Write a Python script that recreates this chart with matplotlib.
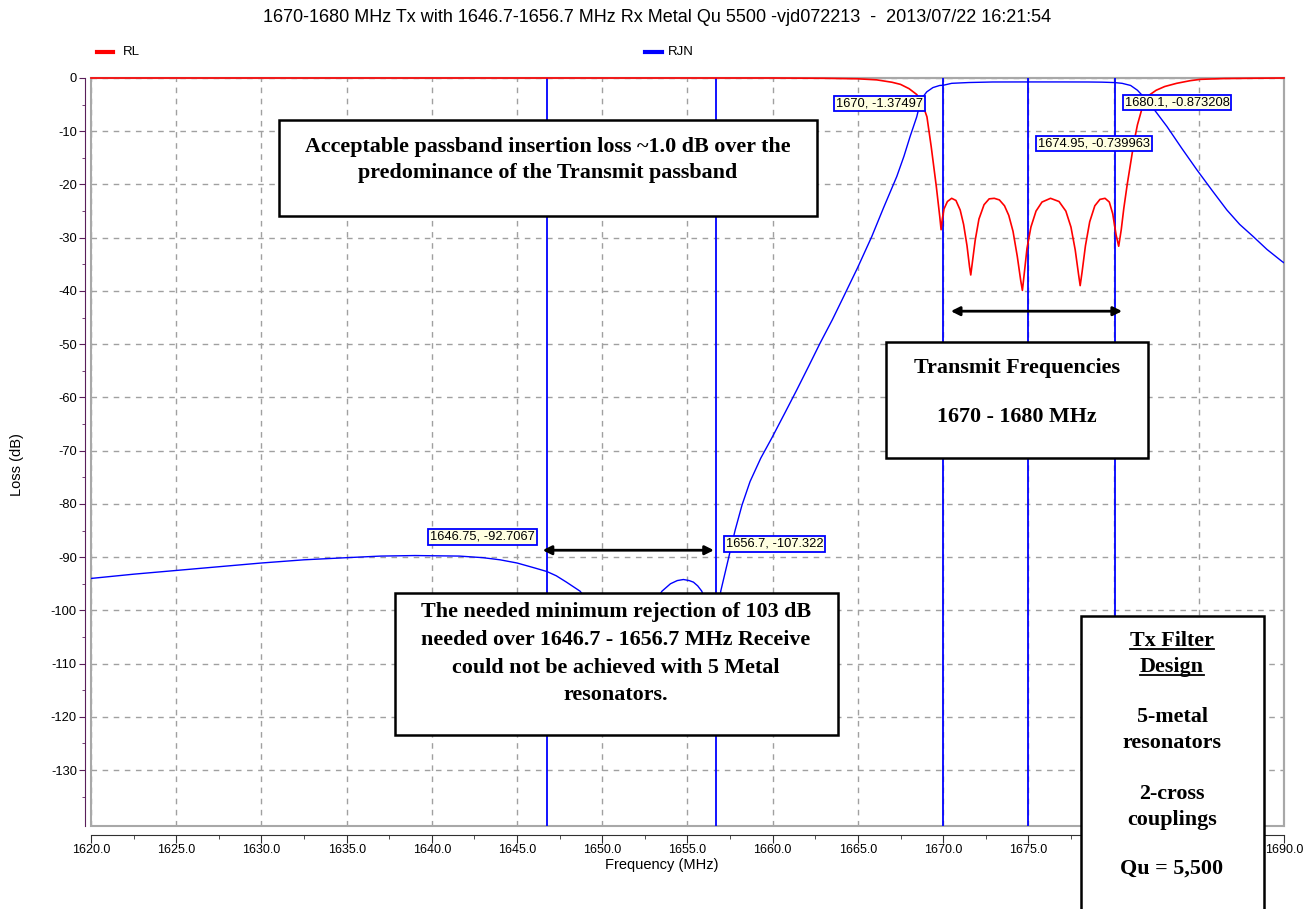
import numpy as np
import matplotlib
matplotlib.use('Agg')
import matplotlib.pyplot as plt
from matplotlib.patches import Rectangle
from matplotlib.lines import Line2D
from matplotlib.ticker import MultipleLocator, FixedLocator, FormatStrFormatter

plt.rcParams['font.family'] = ['Liberation Sans', 'DejaVu Sans']
plt.rcParams['axes.unicode_minus'] = False

W, H = 1315, 909
PT = 72 / 100  # pixels -> points at dpi 100

title = '1670-1680 MHz Tx with 1646.7-1656.7 MHz Rx Metal Qu 5500 -vjd072213  -  2013/07/22 16:21:54'

# RL (return loss) trace, MHz / dB
rl_freq = [1620, 1650, 1660, 1663, 1665, 1666.1, 1667.0, 1667.5, 1668.0, 1668.45,
           1668.8, 1669.05, 1669.3, 1669.6, 1669.8, 1669.88, 1669.95, 1670.05, 1670.25, 1670.5,
           1670.75, 1671.0, 1671.2, 1671.4, 1671.55, 1671.62, 1671.7, 1671.88, 1672.1, 1672.4,
           1672.7, 1673.0, 1673.3, 1673.6, 1673.85, 1674.1, 1674.35, 1674.55, 1674.65, 1674.75,
           1674.92, 1675.15, 1675.45, 1675.8, 1676.3, 1676.8, 1677.2, 1677.5, 1677.75, 1677.95,
           1678.04, 1678.15, 1678.35, 1678.6, 1678.9, 1679.2, 1679.5, 1679.75, 1679.95, 1680.15,
           1680.3, 1680.45, 1680.6, 1680.8, 1681.0, 1681.2, 1681.4, 1681.75, 1682.1, 1682.5,
           1683.0, 1683.7, 1684.5, 1685.1, 1686.5, 1688, 1690]
rl_db = [0, 0, 0, -0.05, -0.15, -0.35, -0.8, -1.2, -2.0, -3.1,
         -5.0, -7.3, -12.9, -20.4, -26.0, -28.5, -26.5, -24.6, -23.2, -22.6,
         -23.0, -24.8, -27.5, -31.5, -35.5, -37.0, -35.0, -30.5, -26.5, -23.8,
         -22.7, -22.6, -22.9, -24.0, -25.8, -28.8, -33.5, -38.0, -39.9, -37.0,
         -32.0, -28.0, -25.0, -23.3, -22.6, -23.2, -25.0, -28.0, -32.3, -37.0,
         -39.0, -36.5, -31.5, -27.0, -24.0, -22.8, -22.6, -23.3, -25.5, -29.5,
         -31.6, -28.5, -24.5, -20.0, -16.0, -12.0, -8.8, -4.8, -3.2, -2.3,
         -1.6, -1.0, -0.5, -0.25, -0.1, -0.05, 0]

# RJN (rejection / insertion) trace, MHz / dB
rjn_freq = [1620, 1622.5, 1625, 1627.5, 1630, 1632.5, 1635, 1637, 1639, 1641.6,
            1643, 1644, 1645, 1646, 1646.75, 1647.3, 1647.9, 1648.7, 1649.3, 1650.0,
            1650.8, 1651.3, 1651.8, 1652.5, 1653.0, 1653.5, 1654.0, 1654.4, 1654.76, 1655.1,
            1655.35, 1655.6, 1655.84, 1656.1, 1656.3, 1656.45, 1656.7, 1656.95, 1657.4, 1657.79,
            1658.2, 1658.67, 1659.3, 1659.95, 1660.7, 1661.41, 1662.1, 1662.78, 1663.5, 1664.14,
            1665.0, 1665.81, 1666.5, 1667.28, 1667.7, 1668.06, 1668.45, 1668.65, 1668.85, 1669.04,
            1669.4, 1669.8, 1670.0, 1670.5, 1671.5, 1672.9, 1674.95, 1677, 1678.5, 1679.3,
            1679.7, 1680.1, 1680.5, 1681.0, 1681.4, 1681.75, 1682.4, 1683.13, 1684.0, 1684.9,
            1685.8, 1686.65, 1687.4, 1688.2, 1689.0, 1689.9, 1690]
rjn_db = [-94.0, -93.2, -92.5, -91.8, -91.1, -90.5, -90.1, -89.8, -89.7, -89.8,
          -90.1, -90.5, -91.1, -92.0, -92.7, -93.5, -94.7, -96.4, -99.0, -104.0,
          -112.0, -118.0, -112.0, -103.0, -99.0, -96.4, -95.0, -94.4, -94.2, -94.4,
          -94.7, -95.4, -96.4, -99.0, -106.0, -118.0, -107.3, -96.4, -90.3, -85.0,
          -80.2, -75.8, -71.4, -67.6, -63.0, -58.6, -54.2, -49.8, -45.4, -41.2,
          -35.5, -29.8, -24.4, -18.5, -14.7, -11.0, -7.3, -4.7, -3.4, -2.6,
          -1.8, -1.4, -1.37, -1.0, -0.85, -0.75, -0.74, -0.74, -0.75, -0.78,
          -0.82, -0.87, -1.0, -1.4, -2.3, -3.5, -6.0, -9.1, -13.2, -17.3,
          -21.2, -24.8, -27.5, -29.8, -32.2, -34.5, -34.7]

# markers placed on the RJN trace
mk_freq = [1670, 1674.95, 1680.1, 1646.75, 1656.7]
mk_val = [-1.37497, -0.739963, -0.873208, -92.7067, -107.322]
mk_text = ['1670, -1.37497', '1674.95, -0.739963', '1680.1, -0.873208',
           '1646.75, -92.7067', '1656.7, -107.322']
# label placement (text x in MHz, text y in dB, side)
mk_pos = [(1668.8, -4.8, 'right'), (1675.55, -12.3, 'left'), (1680.65, -4.6, 'left'),
          (1646.05, -86.2, 'right'), (1657.25, -87.5, 'left')]

y_major = list(range(0, -131, -10))
y_minor = list(range(-5, -136, -10))


def fx(x):
    return x / W


def fy(y):
    return 1 - y / H


fig = plt.figure(figsize=(W / 100, H / 100), dpi=100)
ax = fig.add_axes([fx(91), fy(826), (1284 - 91) / W, (826 - 78) / H])

ax.plot(rjn_freq, rjn_db, color='#0000ff', lw=1.0, zorder=3)
ax.plot(rl_freq, rl_db, color='#ff0000', lw=1.2, zorder=4, clip_on=False)
for f in mk_freq:
    ax.axvline(f, color='#0000ff', lw=1.3, zorder=3)

for (tx, ty, side), t in zip(mk_pos, mk_text):
    ax.text(tx, ty, t, ha=side, va='center', fontsize=9.3, zorder=6,
            bbox=dict(boxstyle='square,pad=0.15', fc='#ffffe1', ec='#0000ff', lw=1.3))

ax.set_xlim(1620, 1690)
ax.set_ylim(-140.5, 0)
ax.xaxis.set_major_locator(MultipleLocator(5))
ax.xaxis.set_minor_locator(MultipleLocator(2.5))
ax.xaxis.set_major_formatter(FormatStrFormatter('%.1f'))
ax.yaxis.set_major_locator(FixedLocator(y_major))
ax.yaxis.set_minor_locator(FixedLocator(y_minor))
ax.grid(True, which='major', ls=(0, (4, 4)), color='#a0a0a0', lw=1.0, zorder=1)

ax.spines['top'].set_color('#a8a8a8')
ax.spines['right'].set_color('#a8a8a8')
ax.spines['top'].set_linewidth(1.5)
ax.spines['right'].set_linewidth(1.5)
ax.spines['left'].set_position(('outward', 6 * PT))
ax.spines['left'].set_color('#5a1f5a')
ax.spines['bottom'].set_position(('outward', 9 * PT))
ax.spines['bottom'].set_color('#303030')
ax.add_patch(Rectangle((0, 0), 1, 1, transform=ax.transAxes, fill=False,
                       ec='#a8a8a8', lw=1.5, clip_on=False, zorder=2))

ax.tick_params(axis='y', which='major', length=6 * PT, color='#5a1f5a', labelsize=9.3, pad=1.5)
ax.tick_params(axis='y', which='minor', length=3 * PT, color='#5a1f5a')
ax.tick_params(axis='x', which='major', length=8 * PT, color='#303030', labelsize=9, pad=1)
ax.tick_params(axis='x', which='minor', length=4 * PT, color='#303030')

fig.text(fx(662), fy(865), 'Frequency (MHz)', ha='center', va='center', fontsize=10.5)
fig.text(fx(17), fy(465), 'Loss (dB)', ha='center', va='center', rotation=90, fontsize=10.5)

fig.text(fx(657), fy(17), title, ha='center', va='center', fontsize=13)

# legend
fig.add_artist(Line2D([fx(97), fx(113)], [fy(52), fy(52)], color='#ff0000', lw=3))
fig.text(fx(123), fy(52), 'RL', va='center', fontsize=9.5)
fig.add_artist(Line2D([fx(645), fx(662)], [fy(52), fy(52)], color='#0000ff', lw=3))
fig.text(fx(668), fy(52), 'RJN', va='center', fontsize=9.5)

# double arrows for the pass / reject bands
arrow = dict(arrowstyle='<|-|>', color='black', lw=2, mutation_scale=13, shrinkA=0, shrinkB=0)
ax.annotate('', xy=(1680.5, -43.8), xytext=(1670.45, -43.8), arrowprops=arrow, zorder=7)
ax.annotate('', xy=(1656.55, -88.7), xytext=(1646.5, -88.7), arrowprops=arrow, zorder=7)

serif = ['Liberation Serif', 'DejaVu Serif']


def note_box(x0, y0, x1, y1):
    fig.add_artist(Rectangle((fx(x0), fy(y1)), fx(x1 - x0), (y1 - y0) / H,
                             fc='white', ec='black', lw=1.8, zorder=8))


def note(x, y, s, size=15.8):
    return fig.text(fx(x), fy(y), s, ha='center', va='center', fontsize=size,
                    fontweight='bold', family=serif, zorder=9)


note_box(279, 120, 817, 216)
note(548, 147, 'Acceptable passband insertion loss ~1.0 dB over the')
note(548, 173, 'predominance of the Transmit passband')

note_box(886, 342, 1148, 458)
note(1017, 368, 'Transmit Frequencies')
note(1017, 417, '1670 - 1680 MHz')

note_box(395, 593, 838, 735)
note(616, 612, 'The needed minimum rejection of 103 dB')
note(616, 640, 'needed over 1646.7 - 1656.7 MHz Receive')
note(616, 668, 'could not be achieved with 5 Metal')
note(616, 695, 'resonators.')

note_box(1081, 616, 1264, 930)
t1 = note(1172, 641, 'Tx Filter')
t2 = note(1172, 667, 'Design')
note(1172, 717, '5-metal')
note(1172, 743, 'resonators')
note(1172, 794, '2-cross')
note(1172, 820, 'couplings')
note(1172, 869, 'Qu = 5,500')

fig.canvas.draw()
# the 1680.0 label sits fully under the design box in the original
for lab in ax.get_xticklabels():
    if lab.get_text() == '1680.0':
        lab.set_visible(False)

inv = fig.transFigure.inverted()
for t in (t1, t2):
    bb = t.get_window_extent()
    (x0, y0), (x1, _) = inv.transform([(bb.x0, bb.y0 + 2), (bb.x1, bb.y0 + 2)])
    fig.add_artist(Line2D([x0, x1], [y0, y0], color='black', lw=1.3, zorder=10))

fig.savefig('out.png', dpi=100)
